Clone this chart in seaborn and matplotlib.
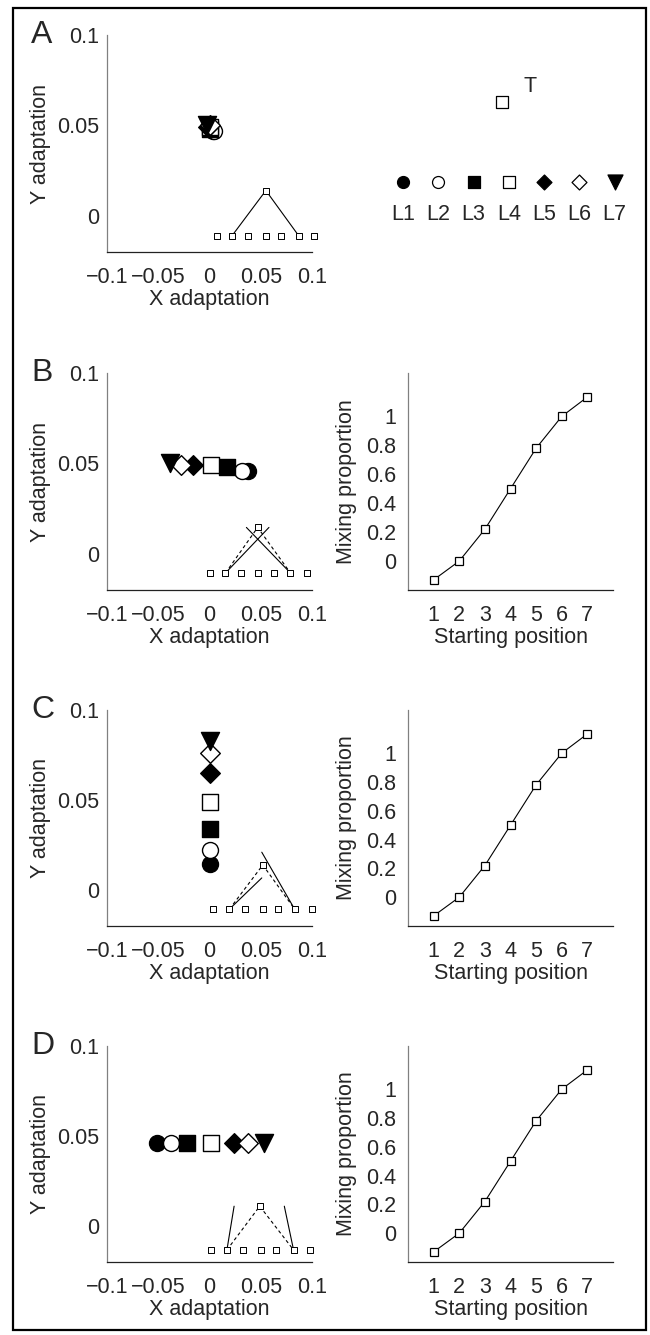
import matplotlib
matplotlib.use("Agg")
import matplotlib.pyplot as plt
import seaborn as sns
import numpy as np
from matplotlib.patches import Rectangle

sns.set_style("white")
plt.rcParams['font.family'] = ['Liberation Sans', 'DejaVu Sans']
plt.rcParams['axes.unicode_minus'] = True

# ---------------- data ----------------
labels = ['L1', 'L2', 'L3', 'L4', 'L5', 'L6', 'L7']
markers = ['o', 'o', 's', 's', 'D', 'D', 'v']
filled = [True, False, True, False, True, False, True]

# adaptation of the seven learners (x, y)
A_x = [0.003, 0.004, 0.0, 0.0, -0.001, 0.0, -0.002]
A_y = [0.047, 0.047, 0.048, 0.049, 0.049, 0.050, 0.050]
B_x = [0.038, 0.032, 0.017, 0.001, -0.016, -0.028, -0.039]
B_y = [0.046, 0.046, 0.048, 0.049, 0.049, 0.049, 0.050]
C_x = [0.0, 0.0, 0.0, 0.0, 0.0, 0.0, 0.0]
C_y = [0.0144, 0.022, 0.034, 0.049, 0.065, 0.076, 0.083]
D_x = [-0.051, -0.038, -0.022, 0.001, 0.024, 0.038, 0.053]
D_y = [0.046, 0.046, 0.046, 0.046, 0.046, 0.046, 0.046]

# inset schematics: start squares, target square, solid and dashed paths
A_sq_x = [0.007, 0.022, 0.038, 0.055, 0.070, 0.087, 0.102]
A_sq_y = -0.011
A_peak = (0.055, 0.014)
A_solid = [([0.022, 0.055, 0.087], [-0.011, 0.014, -0.011])]
A_dash = []

B_sq_x = [0.0, 0.0156, 0.031, 0.047, 0.063, 0.079, 0.095]
B_sq_y = -0.0106
B_peak = (0.047, 0.0146)
B_solid = [([0.0156, 0.058], [-0.0106, 0.0146]), ([0.036, 0.079], [0.0146, -0.0106])]
B_dash = [([0.0156, 0.047, 0.079], [-0.0106, 0.0146, -0.0106])]

C_sq_x = [0.0035, 0.0195, 0.035, 0.052, 0.067, 0.083, 0.1]
C_sq_y = -0.0106
C_peak = (0.052, 0.0139)
C_solid = [([0.0195, 0.051], [-0.0106, 0.0067]), ([0.051, 0.083], [0.021, -0.0106])]
C_dash = [([0.0195, 0.052, 0.083], [-0.0106, 0.0139, -0.0106])]

D_sq_x = [0.001, 0.017, 0.033, 0.050, 0.065, 0.082, 0.098]
D_sq_y = -0.0133
D_peak = (0.049, 0.011)
D_solid = [([0.017, 0.024], [-0.0133, 0.011]), ([0.073, 0.082], [0.011, -0.0133])]
D_dash = [([0.017, 0.049, 0.082], [-0.0133, 0.011, -0.0133])]

# mixing proportion vs starting position
start_pos = [1, 2, 3, 4, 5, 6, 7]
mix_B = [-0.13, 0.0, 0.22, 0.50, 0.78, 1.0, 1.134]
mix_C = [-0.13, 0.0, 0.22, 0.50, 0.78, 1.0, 1.134]
mix_D = [-0.13, 0.0, 0.22, 0.50, 0.78, 1.0, 1.134]

xticks_adapt = [-0.1, -0.05, 0, 0.05, 0.1]
xtick_labels_adapt = ['\u22120.1', '\u22120.05', '0', '0.05', '0.1']
yticks_adapt = [0, 0.05, 0.1]
ytick_labels_adapt = ['0', '0.05', '0.1']
yticks_mix = [0, 0.2, 0.4, 0.6, 0.8, 1.0]
ytick_labels_mix = ['0', '0.2', '0.4', '0.6', '0.8', '1']

# ---------------- figure ----------------
W, H = 650, 1335
fig = plt.figure(figsize=(W / 100, H / 100), dpi=100)

def add_ax(l, t, r, b):
    return fig.add_axes([l / W, 1 - b / H, (r - l) / W, (b - t) / H])

FS = 15.5
main_ms = {'o': 11.5, 's': 11.0, 'D': 10.0, 'v': 13.0}
leg_ms = {'o': 8.6, 's': 8.0, 'D': 7.6, 'v': 10.8}

def style_axes(ax, left_pad=4):
    for s in ['top', 'right']:
        ax.spines[s].set_visible(False)
    ax.spines['left'].set_color('#808080')
    ax.spines['left'].set_linewidth(0.9)
    ax.spines['bottom'].set_color('#222222')
    ax.spines['bottom'].set_linewidth(0.9)
    ax.tick_params(axis='x', direction='inout', length=5, width=0.8, color='#222222',
                   labelsize=FS, pad=8)
    ax.tick_params(axis='y', direction='inout', length=3, width=0.8, color='#808080',
                   labelsize=FS, pad=left_pad)
    ax.grid(False)

def adapt_panel(ax, xs, ys, sq_x, sq_y, peak, solids, dashes, letter, show_xlabel=True):
    for (lx, ly) in solids:
        sns.lineplot(x=lx, y=ly, sort=False, estimator=None, color='black', lw=0.8, ax=ax)
    for (lx, ly) in dashes:
        sns.lineplot(x=lx, y=ly, sort=False, estimator=None, color='black', lw=0.8,
                     linestyle=(0, (3, 2.5)), ax=ax)
    sns.scatterplot(x=sq_x, y=[sq_y] * len(sq_x), marker='s', s=16, color='white',
                    edgecolor='black', linewidth=0.7, ax=ax, clip_on=False, zorder=3)
    sns.scatterplot(x=[peak[0]], y=[peak[1]], marker='s', s=16, color='white',
                    edgecolor='black', linewidth=0.7, ax=ax, clip_on=False, zorder=3)
    for i in range(len(labels)):
        m = markers[i]
        sns.scatterplot(x=[xs[i]], y=[ys[i]], marker=m, s=main_ms[m] ** 2,
                        color='black' if filled[i] else 'white', edgecolor='black',
                        linewidth=1.0, ax=ax, clip_on=False, zorder=4 + i)
    ax.set_xlim(-0.1, 0.1)
    ax.set_ylim(-0.02, 0.1)
    ax.set_xticks(xticks_adapt)
    ax.set_xticklabels(xtick_labels_adapt)
    ax.set_yticks(yticks_adapt)
    ax.set_yticklabels(ytick_labels_adapt)
    style_axes(ax, left_pad=4)
    ax.set_ylabel('Y adaptation', fontsize=FS)
    ax.yaxis.set_label_coords(-0.275, 0.5)
    if show_xlabel:
        ax.set_xlabel('X adaptation', fontsize=FS, va='top')
        ax.xaxis.set_label_coords(0.5, -0.17)
    else:
        ax.set_xlabel('')
    ax.text(-0.37, 1.0, letter, transform=ax.transAxes, fontsize=23,
            ha='left', va='center')

def mix_panel(ax, ys):
    sns.lineplot(x=start_pos, y=ys, sort=False, estimator=None, color='black', lw=0.8,
                 marker='s', markersize=5.5, markerfacecolor='white',
                 markeredgecolor='black', markeredgewidth=0.9, ax=ax, clip_on=False)
    ax.set_xlim(0, 8)
    ax.set_ylim(-0.2, 1.3)
    ax.set_xticks(start_pos)
    ax.set_xticklabels([str(p) for p in start_pos])
    ax.set_yticks(yticks_mix)
    ax.set_yticklabels(ytick_labels_mix)
    style_axes(ax, left_pad=7)
    ax.set_ylabel('Mixing proportion', fontsize=FS)
    ax.yaxis.set_label_coords(-0.25, 0.5)
    ax.set_xlabel('Starting position', fontsize=FS, va='top')
    ax.xaxis.set_label_coords(0.5, -0.17)

rows = [(35, 252), (373, 590), (710, 926), (1046, 1262)]
LX = (107, 312)
RX = (408, 613)

axA = add_ax(LX[0], rows[0][0], LX[1], rows[0][1])
adapt_panel(axA, A_x, A_y, A_sq_x, A_sq_y, A_peak, A_solid, A_dash, 'A')
axB = add_ax(LX[0], rows[1][0], LX[1], rows[1][1])
adapt_panel(axB, B_x, B_y, B_sq_x, B_sq_y, B_peak, B_solid, B_dash, 'B')
axC = add_ax(LX[0], rows[2][0], LX[1], rows[2][1])
adapt_panel(axC, C_x, C_y, C_sq_x, C_sq_y, C_peak, C_solid, C_dash, 'C')
axD = add_ax(LX[0], rows[3][0], LX[1], rows[3][1])
adapt_panel(axD, D_x, D_y, D_sq_x, D_sq_y, D_peak, D_solid, D_dash, 'D')

axBm = add_ax(RX[0], rows[1][0], RX[1], rows[1][1])
mix_panel(axBm, mix_B)
axCm = add_ax(RX[0], rows[2][0], RX[1], rows[2][1])
mix_panel(axCm, mix_C)
axDm = add_ax(RX[0], rows[3][0], RX[1], rows[3][1])
mix_panel(axDm, mix_D)

# key (panel A, right)
axK = add_ax(367.7, 60, 650, 240)
axK.set_xlim(0, 8)
axK.set_ylim(0, 1)
axK.axis('off')
key_x = [1, 2, 3, 4, 5, 6, 7]
for i in range(len(labels)):
    m = markers[i]
    sns.scatterplot(x=[key_x[i]], y=[0.322], marker=m, s=leg_ms[m] ** 2,
                    color='black' if filled[i] else 'white', edgecolor='black',
                    linewidth=0.9, ax=axK, clip_on=False)
    axK.text(key_x[i], 0.139, labels[i], fontsize=FS, ha='center', va='center')
sns.scatterplot(x=[3.8], y=[0.767], marker='s', s=8.6 ** 2, color='white',
                edgecolor='black', linewidth=0.9, ax=axK, clip_on=False)
axK.text(4.6, 0.85, 'T', fontsize=FS, ha='center', va='center')

# frame around figure
fig.patches.append(Rectangle((13 / W, (H - 1330) / H), (646 - 13) / W, (1330 - 8) / H,
                             fill=False, lw=1.6, edgecolor='black',
                             transform=fig.transFigure))

fig.savefig('out.png', dpi=100)
